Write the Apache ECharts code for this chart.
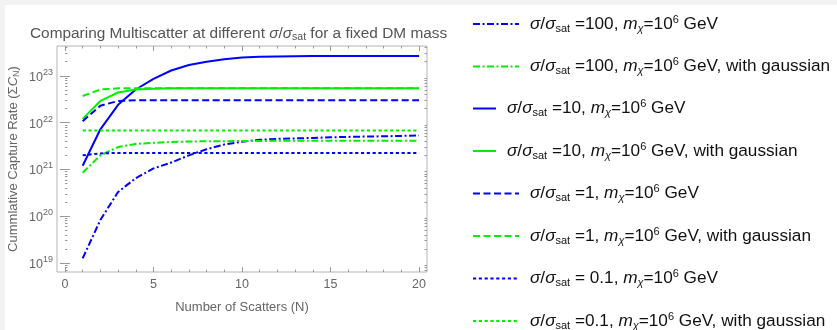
<!DOCTYPE html>
<html><head><meta charset="utf-8">
<script src="https://cdn.jsdelivr.net/npm/echarts@6/dist/echarts.min.js"></script>
<style>html,body{margin:0;padding:0;background:#fff;}#c{width:837px;height:330px;}</style>
</head><body><div id="c"></div>
<script>
// ---- data ----
const scatters = [1,2,3,4,5,6,7,8,9,10,11,12,13,14,15,16,17,18,19,20];
const sat100 = [1.26e19,8.3e19,3.3e20,6.5e20,1.05e21,1.4e21,2.0e21,2.7e21,3.4e21,3.9e21,4.3e21,4.5e21,4.6e21,4.7e21,4.85e21,4.95e21,5.05e21,5.1e21,5.2e21,5.3e21];
const sat100Gauss = [8.5e20,2.0e21,3.0e21,3.5e21,3.7e21,3.85e21,3.95e21,4.0e21,4.0e21,4.05e21,4.05e21,4.1e21,4.1e21,4.1e21,4.1e21,4.1e21,4.1e21,4.1e21,4.1e21,4.1e21];
const sat10 = [1.2e21,7.2e21,2.4e22,5.1e22,8.6e22,1.3e23,1.7e23,2.0e23,2.25e23,2.45e23,2.55e23,2.6e23,2.63e23,2.64e23,2.65e23,2.65e23,2.65e23,2.65e23,2.65e23,2.65e23];
const sat10Gauss = [1.2e22,2.9e22,4.4e22,5.1e22,5.3e22,5.4e22,5.4e22,5.4e22,5.4e22,5.4e22,5.4e22,5.4e22,5.4e22,5.4e22,5.4e22,5.4e22,5.4e22,5.4e22,5.4e22,5.4e22];
const sat1 = [1.07e22,2.3e22,2.9e22,3.0e22,3.0e22,3.0e22,3.0e22,3.0e22,3.0e22,3.0e22,3.0e22,3.0e22,3.0e22,3.0e22,3.0e22,3.0e22,3.0e22,3.0e22,3.0e22,3.0e22];
const sat1Gauss = [3.7e22,5.1e22,5.4e22,5.4e22,5.4e22,5.4e22,5.4e22,5.4e22,5.4e22,5.4e22,5.4e22,5.4e22,5.4e22,5.4e22,5.4e22,5.4e22,5.4e22,5.4e22,5.4e22,5.4e22];
const sat01 = [2.0e21,2.2e21,2.25e21,2.25e21,2.25e21,2.25e21,2.25e21,2.25e21,2.25e21,2.25e21,2.25e21,2.25e21,2.25e21,2.25e21,2.25e21,2.25e21,2.25e21,2.25e21,2.25e21,2.25e21];
const sat01Gauss = [6.8e21,6.8e21,6.8e21,6.8e21,6.8e21,6.8e21,6.8e21,6.8e21,6.8e21,6.8e21,6.8e21,6.8e21,6.8e21,6.8e21,6.8e21,6.8e21,6.8e21,6.8e21,6.8e21,6.8e21];
const seriesNames = [
  'σ/σsat =100, mχ=10^6 GeV',
  'σ/σsat =100, mχ=10^6 GeV, with gaussian',
  'σ/σsat =10, mχ=10^6 GeV',
  'σ/σsat =10, mχ=10^6 GeV, with gaussian',
  'σ/σsat =1, mχ=10^6 GeV',
  'σ/σsat =1, mχ=10^6 GeV, with gaussian',
  'σ/σsat = 0.1, mχ=10^6 GeV',
  'σ/σsat =0.1, mχ=10^6 GeV, with gaussian'
];
const xMajorTicks = [0,5,10,15,20];
const xMinorTicks = [1,2,3,4,6,7,8,9,11,12,13,14,16,17,18,19];
const yDecades = [19,20,21,22,23];
const titleText = 'Comparing Multiscatter at different σ/σsat for a fixed DM mass';
const xTitle = 'Number of Scatters (N)';
const yTitle = 'Cummlative Capture Rate (ΣCN)';

// ---- styles ----
const BLUE = '#0000ff', GREEN = '#00f000';
const FONT = 'Liberation Sans';
const seriesData = [sat100, sat100Gauss, sat10, sat10Gauss, sat1, sat1Gauss, sat01, sat01Gauss];
const colors = [BLUE, GREEN, BLUE, GREEN, BLUE, GREEN, BLUE, GREEN];
const dashDot = [7,2.5,2,2.5], dashed = [7,3.5], dotted = [3.2,2.6];
const dashes = [dashDot, dashDot, 'solid', 'solid', dashed, dashed, dotted, dotted];
const iconW = [46,46,23,23,46,46,46,46];
const legendCenters = [24,66.5,108.5,151,193.5,236,278.5,321];

const yMinLog = 18.808, yMaxLog = 23.637;
const yMin = Math.pow(10, yMinLog), yMax = Math.pow(10, yMaxLog);
const yMinorTicks = [];
for (let n = 18; n <= 23; n++) for (let k = 2; k <= 9; k++) {
  const v = n + Math.log10(k);
  if (v > yMinLog && v < yMaxLog) yMinorTicks.push(v);
}

function richLabel(name) {
  const m = name.match(/^σ\/σsat (= ?[0-9.]+), mχ=10\^6 GeV(.*)$/);
  return '{i|σ}{t|/}{i|σ}{sub|sat}{t| ' + m[1] + ', }{i|m}{subi|χ}{t|=10}{sup|6}{t| GeV' + m[2] + '}';
}
const LC = '#111';
const LF = 17.2;
const legendRich = {
  t: {fontSize: LF, lineHeight: 20, color: LC, fontFamily: FONT},
  i: {fontSize: LF, lineHeight: 20, color: LC, fontStyle: 'italic', fontFamily: FONT},
  sub: {fontSize: 11, lineHeight: 9, verticalAlign: 'bottom', color: LC, fontFamily: FONT},
  subi: {fontSize: 11, lineHeight: 9, verticalAlign: 'bottom', color: LC, fontStyle: 'italic', fontFamily: FONT},
  sup: {fontSize: 11, lineHeight: 11, verticalAlign: 'top', color: LC, fontFamily: FONT},
  g: {width: 6}
};

const GRAY = '#666', TICK = '#999', FRAME = '#b4b4b4';
const grid = {left: 57, right: 410, top: 46, bottom: 58, show: true, borderColor: FRAME, borderWidth: 1, backgroundColor: 'transparent'};

function tickAxisX(pos, vals, len) {
  return {type: 'value', position: pos, min: -0.45, max: 20.45, axisLine: {show: false}, splitLine: {show: false},
    axisLabel: {show: false}, axisTick: {show: true, inside: true, length: len, customValues: vals, lineStyle: {color: TICK}}};
}
function tickAxisY(pos, vals, len) {
  return {type: 'value', position: pos, min: yMinLog, max: yMaxLog, axisLine: {show: false}, splitLine: {show: false},
    axisLabel: {show: false}, axisTick: {show: true, inside: true, length: len, customValues: vals, lineStyle: {color: TICK}}};
}

const xAxis = [
  {type: 'value', position: 'bottom', min: -0.45, max: 20.45,
   axisLine: {show: false}, splitLine: {show: false},
   axisTick: {show: true, inside: true, length: 5, customValues: xMajorTicks, lineStyle: {color: TICK}},
   axisLabel: {customValues: xMajorTicks, color: GRAY, fontSize: 12.5, margin: 6, fontFamily: FONT},
   name: xTitle, nameLocation: 'middle', nameGap: 29,
   nameTextStyle: {color: GRAY, fontSize: 13, fontFamily: FONT}},
  tickAxisX('bottom', xMinorTicks, 2.5),
  tickAxisX('top', xMajorTicks, 5),
  tickAxisX('top', xMinorTicks, 2.5)
];
const yAxis = [
  {type: 'log', logBase: 10, position: 'left', min: yMin, max: yMax,
   axisLine: {show: false}, splitLine: {show: false}, axisTick: {show: false},
   axisLabel: {showMinLabel: false, showMaxLabel: false, margin: 4,
     formatter: v => '{b|10}{s|' + Math.round(Math.log10(v)) + '}',
     rich: {b: {fontSize: 12.5, color: GRAY, lineHeight: 16, verticalAlign: 'bottom', fontFamily: FONT},
            s: {fontSize: 9, color: GRAY, lineHeight: 8, verticalAlign: 'top', fontFamily: FONT}}},
   name: '{t|Cummlative Capture Rate (Σ}{i|C}{sub|N}{t|)}', nameLocation: 'middle', nameGap: 36, nameRotate: 90,
   nameTextStyle: {rich: {
     t: {fontSize: 13, color: GRAY, lineHeight: 16, fontFamily: FONT},
     i: {fontSize: 13, color: GRAY, lineHeight: 16, fontStyle: 'italic', fontFamily: FONT},
     sub: {fontSize: 9, color: GRAY, lineHeight: 8, verticalAlign: 'bottom', fontFamily: FONT}}}},
  tickAxisY('left', yDecades, 5),
  tickAxisY('left', yMinorTicks, 2.5),
  tickAxisY('right', yDecades, 5),
  tickAxisY('right', yMinorTicks, 2.5)
];

const series = seriesData.map((d, idx) => ({
  name: seriesNames[idx], type: 'line', xAxisIndex: 0, yAxisIndex: 0,
  data: scatters.map((n, j) => [n, d[j]]),
  showSymbol: false, symbol: 'none', smooth: false, clip: true,
  lineStyle: {color: colors[idx], width: 2, type: dashes[idx], cap: 'butt'},
  itemStyle: {color: colors[idx]}, z: 3
}));

const legend = seriesNames.map((nm, idx) => ({
  data: [nm], left: 472, top: legendCenters[idx] - 10, padding: 0, selectedMode: false,
  itemWidth: iconW[idx], itemHeight: 20, itemGap: 0,
  lineStyle: {width: 2},
  itemStyle: {opacity: 0, borderWidth: 0},
  formatter: name => '{g| }' + richLabel(name),
  textStyle: {rich: legendRich}
}));

const chart = echarts.init(document.getElementById('c'), null, {renderer: 'canvas'});
chart.setOption({
  backgroundColor: '#ffffff',
  animation: false,
  title: {
    text: '{t|Comparing Multiscatter at different }{i|σ}{t|/}{i|σ}{sub|sat}{t| for a fixed DM mass}',
    left: 30, top: 25, padding: 0,
    textStyle: {fontWeight: 'normal', rich: {
      t: {fontSize: 15.4, color: '#555', lineHeight: 18, fontWeight: 'normal', fontFamily: FONT},
      i: {fontSize: 15.4, color: '#555', lineHeight: 18, fontWeight: 'normal', fontStyle: 'italic', fontFamily: FONT},
      sub: {fontSize: 10.5, color: '#555', lineHeight: 8, fontWeight: 'normal', verticalAlign: 'bottom', fontFamily: FONT}}}
  },
  graphic: [
    {type: 'rect', left: 0, top: 0, shape: {width: 837, height: 5}, style: {fill: '#f2f2f2'}, silent: true, z: -10},
    {type: 'rect', left: 0, top: 0, shape: {width: 5, height: 330}, style: {fill: '#f2f2f2'}, silent: true, z: -10}
  ],
  grid: grid,
  xAxis: xAxis,
  yAxis: yAxis,
  legend: legend,
  series: series
});
</script>
</body></html>
